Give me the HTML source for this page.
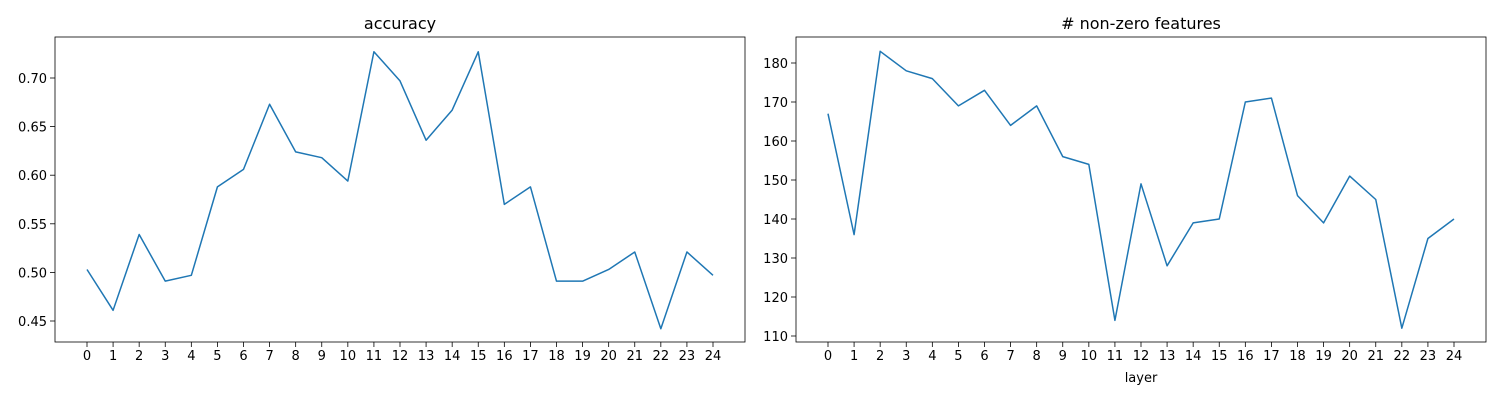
<!DOCTYPE html>
<html><head><meta charset="utf-8"><style>
body{margin:0;background:#fff;}
svg text{font-family:"DejaVu Sans","Liberation Sans",sans-serif;fill:#000;}
</style></head><body>
<svg id="chart" width="1500" height="400" xmlns="http://www.w3.org/2000/svg"></svg>
<script>
const layers = [0,1,2,3,4,5,6,7,8,9,10,11,12,13,14,15,16,17,18,19,20,21,22,23,24];
const accuracy = [0.503,0.461,0.539,0.491,0.497,0.588,0.606,0.673,0.624,0.618,0.594,0.727,0.697,0.636,0.667,0.727,0.570,0.588,0.491,0.491,0.503,0.521,0.442,0.521,0.497];
const nonzero = [167,136,183,178,176,169,173,164,169,156,154,114,149,128,139,140,170,171,146,139,151,145,112,135,140];
const accTicks = [0.45,0.50,0.55,0.60,0.65,0.70];
const nzTicks = [110,120,130,140,150,160,170,180];

const NS="http://www.w3.org/2000/svg";
const svg=document.getElementById('chart');
function mk(tag,attrs,parent){const e=document.createElementNS(NS,tag);for(const k in attrs)e.setAttribute(k,attrs[k]);(parent||svg).appendChild(e);return e;}

function panel(name,left,title,vals,ticks,yv0,yp0,yv1,yp1,xlabel,fmt){
  const top=37,bottom=342,right=left+690;
  const g=mk('g',{});
  
  
  const x0=left+32,x1=left+658;
  const xs=i=>x0+(i-layers[0])*(x1-x0)/(layers[layers.length-1]-layers[0]);
  const ys=v=>yp0+(v-yv0)*(yp1-yp0)/(yv1-yv0);
  const t=mk('text',{x:(left+right)/2,y:29,'text-anchor':'middle','font-size':'16'},g);
  t.textContent=title;
  
  
  layers.forEach(l=>{
    const x=xs(l);
    const tk=mk('line',{x1:x,x2:x,y1:bottom,y2:bottom+5,stroke:'#000','stroke-width':0.8},g);
    
    
    const lb=mk('text',{x:x,y:bottom+18,'text-anchor':'middle','font-size':'13'},g);
    lb.textContent=String(l);
    
    
  });
  ticks.forEach(v=>{
    const y=ys(v);
    const tk=mk('line',{x1:left-5,x2:left,y1:y,y2:y,stroke:'#000','stroke-width':0.8},g);
    
    
    const lb=mk('text',{x:left-8,y:y+5,'text-anchor':'end','font-size':'13'},g);
    lb.textContent=fmt(v);
    
    
  });
  const pts=vals.map((v,i)=>xs(layers[i]).toFixed(2)+','+ys(v).toFixed(2)).join(' ');
  const pl=mk('polyline',{points:pts,fill:'none',stroke:'#1f77b4','stroke-width':1.5,'stroke-linejoin':'round'},g);
  
  
  const fr=mk('rect',{x:left,y:top,width:right-left,height:bottom-top,fill:'none',stroke:'#000','stroke-width':0.8},g);
  
  
  if(xlabel){
    const xl=mk('text',{x:(left+right)/2,y:382,'text-anchor':'middle','font-size':'13'},g);
    xl.textContent=xlabel;
    
    
  }
}
panel('accuracy',55,'accuracy',accuracy,accTicks,0.70,78,0.45,321,null,v=>v.toFixed(2));
panel('nonzero',796,'# non-zero features',nonzero,nzTicks,180,63,110,336,'layer',v=>String(v));
</script>
</body></html>
